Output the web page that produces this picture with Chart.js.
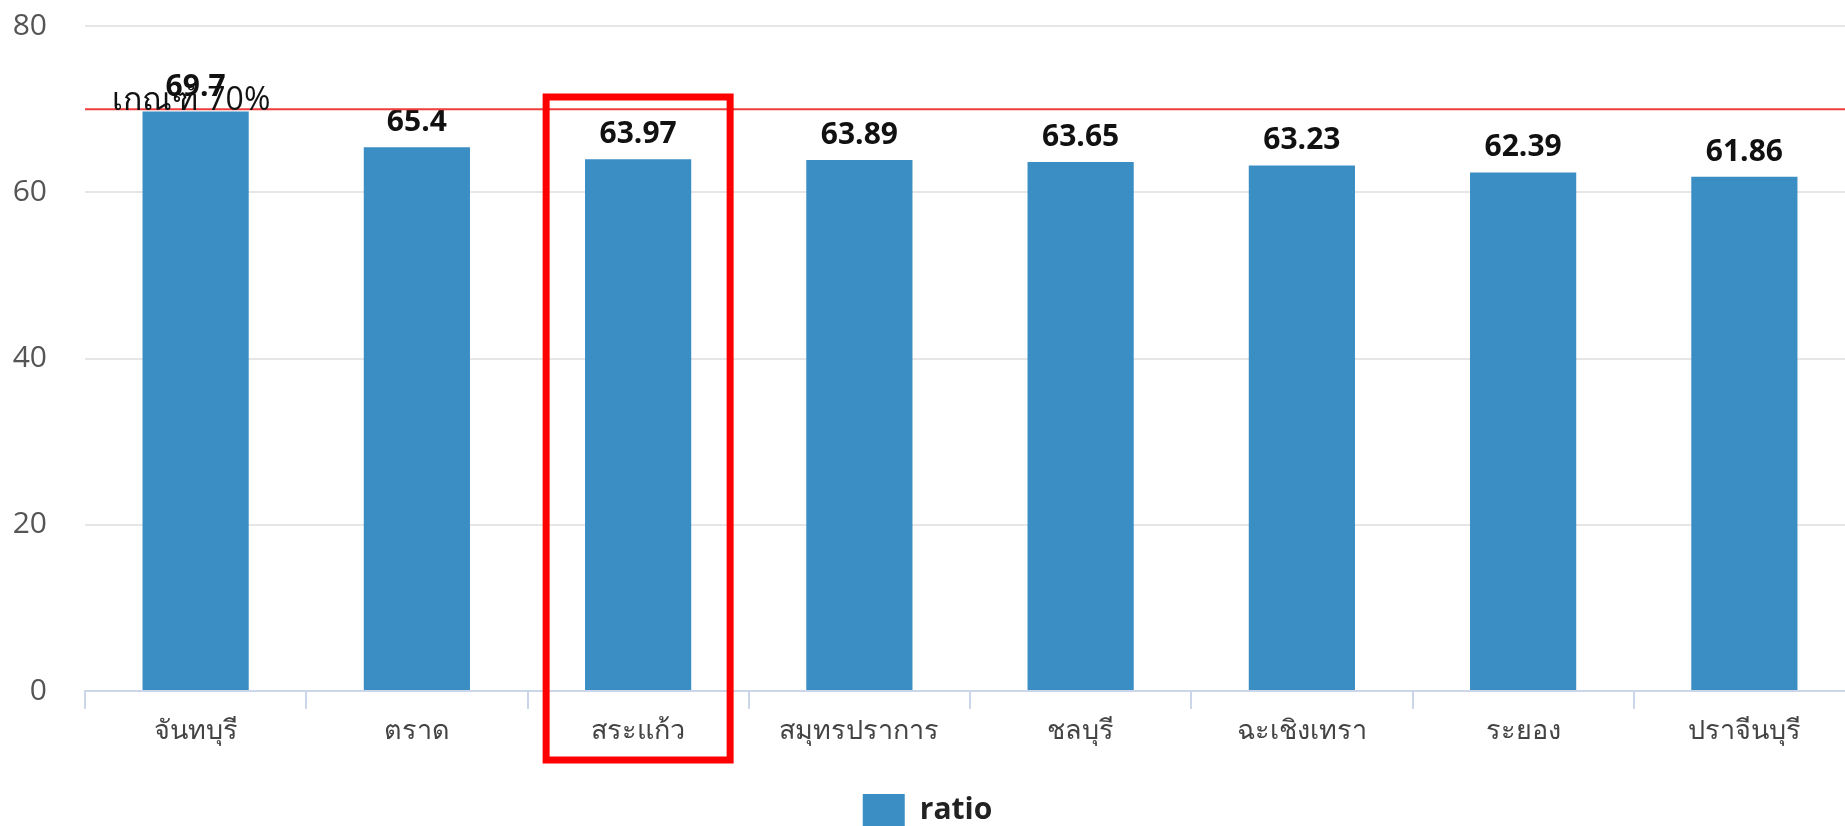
<!DOCTYPE html>
<html>
<head>
<meta charset="utf-8">
<script src="https://cdn.jsdelivr.net/npm/chart.js@4"></script>
<style>
  html, body { margin: 0; padding: 0; background: #fff; overflow: hidden; }
  #wrap { position: absolute; left: 0; top: 0; width: 1858px; height: 836px; }
</style>
</head>
<body>
<div id="wrap"><canvas id="ratioChart"></canvas></div>
<script>
// provinces and their ratio
const provinces = ['จันทบุรี', 'ตราด', 'สระแก้ว', 'สมุทรปราการ', 'ชลบุรี', 'ฉะเชิงเทรา', 'ระยอง', 'ปราจีนบุรี'];
const ratio = [69.7, 65.4, 63.97, 63.89, 63.65, 63.23, 62.39, 61.86];
const yTicks = [0, 20, 40, 60, 80];
const threshold = 70;
const thresholdLabel = 'เกณฑ์ 70%';
const highlightIndex = 2;

const fontFamily = '"Open Sans", "Noto Sans", sans-serif';

//value labels above each bar
const valueLabels = {
    id: 'valueLabels',
    afterDatasetsDraw(chart) {
        const c = chart.ctx;
        const meta = chart.getDatasetMeta(0);
        c.save();
        c.font = 'bold 30px ' + fontFamily;
        c.fillStyle = '#111';
        c.textAlign = 'center';
        c.textBaseline = 'alphabetic';
        meta.data.forEach(function(bar, i) {
            c.fillText(String(ratio[i]), bar.x, bar.y - 16);
        });
        c.restore();
    }
};

//red threshold line + label, and the red box round one category
const marks = {
    id: 'marks',
    afterDraw(chart) {
        const c = chart.ctx;
        const area = chart.chartArea;
        const y = chart.scales.y.getPixelForValue(threshold);
        c.save();
        c.strokeStyle = '#f03c3c';
        c.lineWidth = 2;
        c.beginPath();
        c.moveTo(area.left, y);
        c.lineTo(area.right, y);
        c.stroke();
        c.font = '32px ' + fontFamily;
        c.fillStyle = '#111';
        c.textAlign = 'left';
        c.fillText(thresholdLabel, area.left + 27, y - 8);

        const xs = chart.scales.x;
        const cx = xs.getPixelForValue(highlightIndex);
        c.strokeStyle = '#ff0000';
        c.lineWidth = 7;
        c.strokeRect(cx - 92, area.top + 71, 184, area.bottom - area.top - 2);
        c.restore();
    }
};

new Chart(document.getElementById('ratioChart').getContext('2d'), {
    type: 'bar',
    data: {
        labels: provinces,
        datasets: [{
            label: 'ratio',
            data: ratio,
            backgroundColor: '#3a8ec4',
            borderWidth: 0,
            categoryPercentage: 1,
            barPercentage: 0.48
        }]
    },
    options: {
        responsive: true,
        maintainAspectRatio: false,
        animation: false,
        layout: { padding: { top: 26, left: 0, right: 3, bottom: 0 } },
        plugins: {
            tooltip: { enabled: false },
            legend: {
                position: 'bottom',
                labels: {
                    boxWidth: 42,
                    boxHeight: 32,
                    padding: 10,
                    color: '#222',
                    font: { family: fontFamily, size: 30, weight: 'bold' }
                }
            }
        },
        scales: {
            x: {
                offset: true,
                grid: {
                    display: true,
                    drawOnChartArea: false,
                    drawTicks: true,
                    tickLength: 18,
                    color: '#ccd6eb',
                    lineWidth: 2
                },
                border: { display: true, color: '#ccd6eb', width: 2 },
                ticks: {
                    color: '#444',
                    padding: 6,
                    font: { family: fontFamily, size: 27 }
                },
                afterFit(scale) { scale.height = 93; }
            },
            y: {
                min: 0,
                max: 80,
                afterBuildTicks(scale) { scale.ticks = yTicks.map(v => ({ value: v })); },
                grid: { color: '#e6e6e6', lineWidth: 2, drawTicks: false },
                border: { display: false },
                ticks: {
                    color: '#555',
                    padding: 38,
                    font: { family: fontFamily, size: 30 }
                },
                afterFit(scale) {
                    scale.width = 85;
                    // tick padding shouldn't push the plot down
                    scale.paddingTop = 0;
                    scale.paddingBottom = 0;
                }
            }
        }
    },
    plugins: [valueLabels, marks]
});
</script>
</body>
</html>
